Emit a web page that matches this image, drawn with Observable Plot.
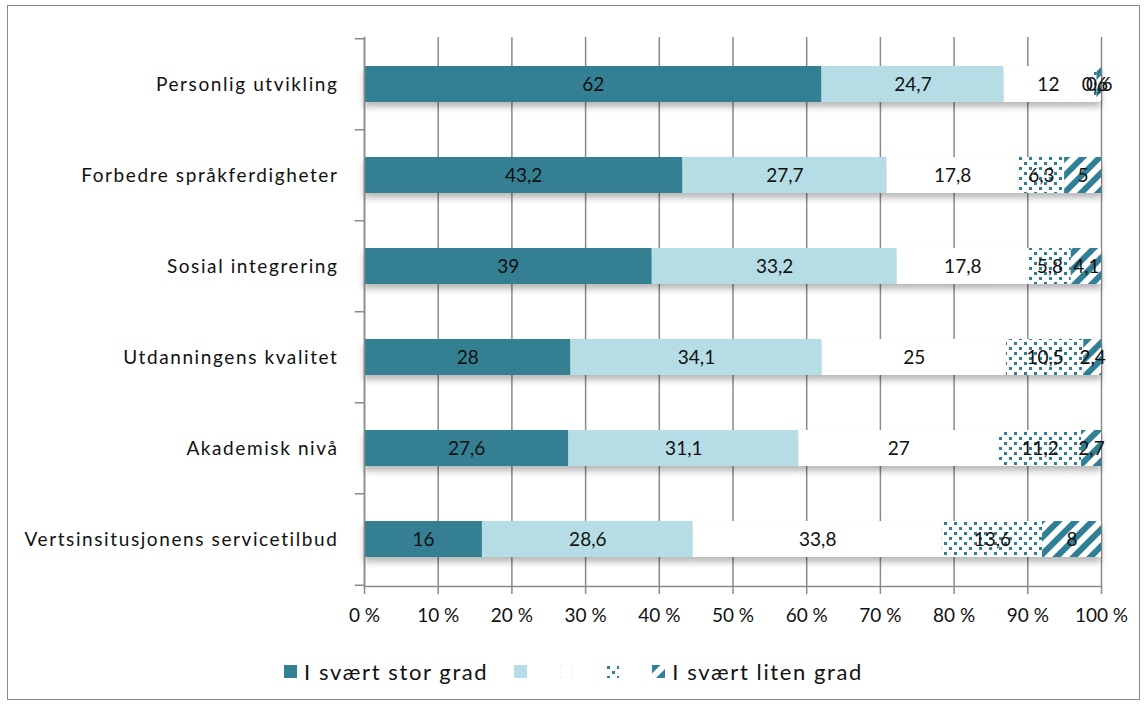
<!DOCTYPE html>
<html>
<head>
<meta charset="utf-8">
<script src="https://cdn.jsdelivr.net/npm/d3@7"></script>
<script src="https://cdn.jsdelivr.net/npm/@observablehq/plot@0.6"></script>
<style>
  html, body { margin: 0; padding: 0; background: #fff; }
  #frame { position: absolute; left: 7px; top: 5px; width: 1133px; height: 695px; box-sizing: border-box; border: 1px solid #8a8a8a; background: #fff; }
  #chart { position: absolute; left: 0; top: 0; }
  #legend { position: absolute; left: 0; right: 0; top: 652px; display: flex; justify-content: center; align-items: center; font-family: Lato, "Open Sans", sans-serif; font-size: 22px; letter-spacing: 1.6px; color: #111; }
  #legend .item { display: flex; align-items: center; margin: 0 13px; }
  #legend svg { margin-right: 7px; }
  g[aria-label="bar"] { filter: drop-shadow(0px 5px 3px rgba(0,0,0,0.28)); }
  g[aria-label="y-axis tick label"] text { letter-spacing: 1.6px; }
</style>
</head>
<body>
<svg width="0" height="0" style="position:absolute">
  <defs>
    <pattern id="dots" patternUnits="userSpaceOnUse" width="10" height="10">
      <rect width="10" height="10" fill="#fff"></rect>
      <rect x="1" y="1" width="3" height="3" fill="#2f8096"></rect>
      <rect x="6" y="6" width="3" height="3" fill="#2f8096"></rect>
    </pattern>
    <pattern id="stripes" patternUnits="userSpaceOnUse" width="12" height="12" patternTransform="rotate(45)">
      <rect width="12" height="12" fill="#fff"></rect>
      <rect x="0" y="0" width="6" height="12" fill="#2f8096"></rect>
    </pattern>
  </defs>
</svg>
<div id="frame">
  <div id="chart"></div>
  <div id="legend"></div>
</div>
<script>
const categories = ["Personlig utvikling", "Forbedre språkferdigheter", "Sosial integrering", "Utdanningens kvalitet", "Akademisk nivå", "Vertsinsitusjonens servicetilbud"];
const seriesKeys = ["s1", "s2", "s3", "s4", "s5"];
const seriesLabels = ["I svært stor grad", "", "", "", "I svært liten grad"];
const s1 = [62, 43.2, 39, 28, 27.6, 16];
const s2 = [24.7, 27.7, 33.2, 34.1, 31.1, 28.6];
const s3 = [12, 17.8, 17.8, 25, 27, 33.8];
const s4 = [0.6, 6.3, 5.8, 10.5, 11.2, 13.6];
const s5 = [0.6, 5, 4.1, 2.4, 2.7, 8];
const xTicks = [0, 0.1, 0.2, 0.3, 0.4, 0.5, 0.6, 0.7, 0.8, 0.9, 1];
const seriesFills = ["#357f92", "#b6dde6", "#ffffff", "url(#dots)", "url(#stripes)"];

const seriesValues = [s1, s2, s3, s4, s5];
const data = [];
categories.forEach((c, i) => {
  seriesKeys.forEach((s, j) => data.push({cat: c, series: s, value: seriesValues[j][i]}));
});

const W = 1131, H = 640, mT = 31, mB = 60, mL = 356, mR = 38;
const step = (H - mT - mB) / categories.length;
const fmt = v => String(v).replace(".", ",");

const chart = Plot.plot({
  width: W, height: H,
  marginTop: mT, marginBottom: mB, marginLeft: mL, marginRight: mR,
  style: {fontFamily: "Lato, 'Open Sans', sans-serif", fontSize: "19px", color: "#111", background: "transparent"},
  x: {domain: [0, 1], axis: null},
  y: {domain: categories, paddingInner: 0.6, paddingOuter: 0.3, axis: null},
  color: {domain: seriesKeys, range: seriesFills},
  marks: [
    Plot.gridX(xTicks, {stroke: "#8a8a8a", strokeOpacity: 1, strokeWidth: 1.5}),
    Plot.barX(data, Plot.stackX({x: "value", y: "cat", z: "series", fill: "series", offset: "normalize"})),
    Plot.text(data, Plot.stackX({x: "value", y: "cat", z: "series", text: d => fmt(d.value), offset: "normalize", fill: "#111", fontSize: 19})),
    Plot.frame({anchor: "left", stroke: "#8a8a8a", strokeWidth: 1.5}),
    Plot.frame({anchor: "bottom", stroke: "#8a8a8a", strokeWidth: 1.5}),
    Plot.ruleY(categories, {y: d => d, dy: -step / 2, x1: -0.0125, x2: 0, stroke: "#8a8a8a", strokeWidth: 1.5}),
    Plot.ruleY(categories.slice(-1), {y: d => d, dy: step / 2, x1: -0.0125, x2: 0, stroke: "#8a8a8a", strokeWidth: 1.5}),
    Plot.axisX(xTicks, {tickFormat: d => Math.round(d * 100) + " %", tickSize: 8, tickPadding: 14, stroke: "#8a8a8a", strokeWidth: 1.5, fontSize: 19, fill: "#111", label: null}),
    Plot.axisY({tickSize: 0, tickPadding: 26, fontSize: 19, fill: "#111", label: null})
  ]
});
document.getElementById("chart").appendChild(chart);

const legend = d3.select("#legend");
seriesKeys.forEach((s, j) => {
  const item = legend.append("div").attr("class", "item");
  const sw = item.append("svg").attr("width", 13).attr("height", 13);
  sw.append("rect").attr("width", 13).attr("height", 13).attr("fill", seriesFills[j])
    .attr("stroke", j === 2 ? "#eeeeee" : "none");
  if (seriesLabels[j]) item.append("span").text(seriesLabels[j]);
});
</script>
</body>
</html>
